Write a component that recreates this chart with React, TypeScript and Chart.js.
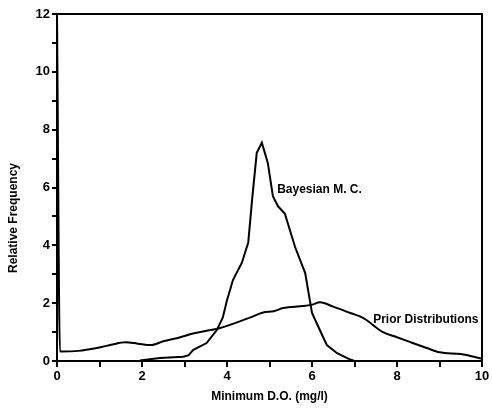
import React, { useEffect, useRef } from "react";
import { Chart, registerables } from "chart.js";

Chart.register(...registerables);

const priorX = [0.0, 0.07, 0.5, 0.94, 1.3, 1.6, 1.9, 2.2, 2.5, 2.9, 3.2, 3.5, 3.84, 4.2, 4.54, 4.85, 5.1, 5.32, 5.8, 6.0, 6.19, 6.5, 6.9, 7.2, 7.67, 8.0, 8.3, 8.7, 9.0, 9.5, 10.0];
const priorY = [12, 0.33, 0.35, 0.45, 0.57, 0.65, 0.6, 0.55, 0.68, 0.82, 0.95, 1.04, 1.14, 1.32, 1.5, 1.68, 1.72, 1.83, 1.9, 1.95, 2.03, 1.88, 1.66, 1.49, 1.0, 0.82, 0.66, 0.45, 0.3, 0.24, 0.08];

const bayesX = [1.95, 2.42, 2.97, 3.1, 3.2, 3.52, 3.76, 3.9, 4.0, 4.14, 4.35, 4.5, 4.59, 4.7, 4.82, 4.96, 5.08, 5.2, 5.36, 5.6, 5.84, 6.0, 6.26, 6.35, 6.59, 6.9, 7.0];
const bayesY = [0.02, 0.1, 0.15, 0.2, 0.38, 0.62, 1.07, 1.5, 2.1, 2.8, 3.4, 4.1, 5.57, 7.2, 7.55, 6.85, 5.7, 5.35, 5.1, 3.95, 3.04, 1.66, 0.83, 0.55, 0.27, 0.05, 0.0];

const xTitle = "Minimum D.O. (mg/l)";
const yTitle = "Relative Frequency";
const bayesLabel = { text: "Bayesian M. C.", x: 5.18, y: 5.92 };
const priorLabel = { text: "Prior Distributions", x: 7.44, y: 1.42 };

const FONT = "'Liberation Sans', Arial, Helvetica, sans-serif";

export default function App() {
  const ref = useRef<HTMLCanvasElement>(null);
  useEffect(() => {
    document.body.style.margin = "0";
    const ctx = ref.current!.getContext("2d")!;
    const overlay = {
      id: "overlay",
      afterDraw(chart: any) {
        const c = chart.ctx;
        const { left, top, right, bottom } = chart.chartArea;
        const xs = chart.scales.x;
        const ys = chart.scales.y;
        c.save();
        c.strokeStyle = "#000";
        c.lineWidth = 2;
        c.strokeRect(left, top, right - left, bottom - top);
        c.fillStyle = "#000";
        c.font = `bold 12px ${FONT}`;
        c.textBaseline = "middle";
        c.textAlign = "left";
        [bayesLabel, priorLabel].forEach((l) => {
          c.fillText(l.text, xs.getPixelForValue(l.x), ys.getPixelForValue(l.y));
        });
        c.translate(14, 218);
        c.rotate(-Math.PI / 2);
        c.textAlign = "center";
        c.font = `bold 12px ${FONT}`;
        c.fillText(yTitle, 0, 0);
        c.restore();
      },
    };
    const chart = new Chart(ctx, {
      type: "line",
      data: {
        datasets: [
          {
            label: "Prior Distributions",
            data: priorX.map((x, i) => ({ x, y: priorY[i] })),
            borderColor: "#000",
            borderWidth: 2,
            pointRadius: 0,
            cubicInterpolationMode: "monotone",
          },
          {
            label: "Bayesian M. C.",
            data: bayesX.map((x, i) => ({ x, y: bayesY[i] })),
            borderColor: "#000",
            borderWidth: 2,
            pointRadius: 0,
            tension: 0,
          },
        ],
      },
      options: {
        animation: false,
        responsive: false,
        layout: { padding: { top: 14, right: 10, left: 0, bottom: 0 } },
        plugins: { legend: { display: false }, tooltip: { enabled: false } },
        scales: {
          x: {
            type: "linear",
            min: 0,
            max: 10,
            afterFit: (s: any) => {
              s.height = 47;
            },
            ticks: {
              stepSize: 1,
              autoSkip: false,
              maxRotation: 0,
              color: "#000",
              padding: 2,
              font: { family: FONT, size: 13, weight: "bold" },
              callback: (v: any) => (v % 2 === 0 ? String(v) : ""),
            },
            grid: { drawOnChartArea: false, tickLength: 6, color: "#000", lineWidth: 2 },
            border: { color: "#000", width: 2 },
            title: {
              display: true,
              text: xTitle,
              color: "#000",
              padding: { top: 4 },
              font: { family: FONT, size: 12, weight: "bold" },
            },
          },
          y: {
            min: 0,
            max: 12,
            afterFit: (s: any) => {
              s.width = 57;
            },
            ticks: {
              stepSize: 1,
              autoSkip: false,
              color: "#000",
              padding: 2,
              font: { family: FONT, size: 13, weight: "bold" },
              callback: (v: any) => (v % 2 === 0 ? String(v) : ""),
            },
            grid: { drawOnChartArea: false, tickLength: 5, color: "#000", lineWidth: 2 },
            border: { color: "#000", width: 2 },
          },
        },
      },
      plugins: [overlay],
    });
    return () => chart.destroy();
  }, []);
  return (
    <div style={{ width: 492, height: 408, background: "#fff" }}>
      <canvas ref={ref} width={492} height={408} />
    </div>
  );
}
